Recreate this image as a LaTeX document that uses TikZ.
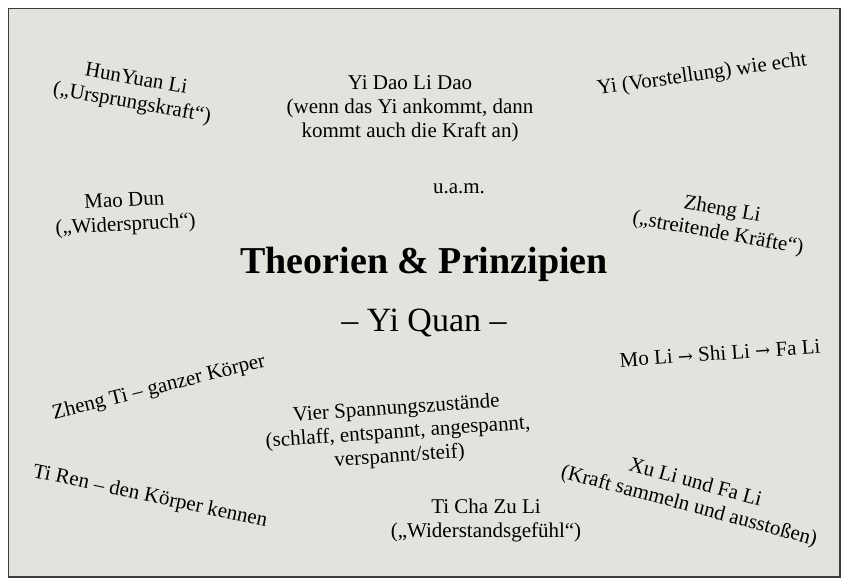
\documentclass[tikz,border=0pt]{standalone}
\usepackage{fontspec}
\setmainfont{Liberation Serif}
\newfontfamily\arrowfont{DejaVu Serif}
\usepackage{xcolor}
\usepackage{tikz}

\definecolor{paper}{RGB}{227,227,221}
\definecolor{rim}{RGB}{60,60,60}
\newcommand{\toarrow}{{\arrowfont\fontsize{18}{18}\selectfont →}}

\begin{document}
\begin{tikzpicture}[x=1pt,y=-1pt,every node/.style={align=center,inner sep=0pt,font=\fontsize{21}{24}\selectfont}]
\useasboundingbox (0,0) rectangle (848,585);
\draw[rim,line width=1.5pt,fill=paper] (8.5,8.5) rectangle (840,577);

\node (title) at (424,264) [font=\fontsize{38}{40}\selectfont\bfseries] {Theorien \& Prinzipien};
\node (yiquan) at (424,323) [font=\fontsize{34}{36}\selectfont] {– Yi Quan –};

\node (hunyuan) at (134,92) [rotate=-10] {HunYuan Li\\(„Ursprungskraft“)};
\node (yidao) at (410,109) {Yi Dao Li Dao\\(wenn das Yi ankommt, dann\\kommt auch die Kraft an)};
\node (vorst) at (702,75) [rotate=8] {Yi (Vorstellung) wie echt};
\node (uam) at (459,189) {u.a.m.};
\node (maodun) at (125,214) [rotate=3] {Mao Dun\\(„Widerspruch“)};
\node (zhengli) at (720,222) [rotate=-10] {Zheng Li\\(„streitende Kräfte“)};
\node (moli) at (720,353) [rotate=4] {Mo Li \toarrow{} Shi Li \toarrow{} Fa Li};
\node (zhengti) at (159,388) [rotate=14] {Zheng Ti – ganzer Körper};
\node (vier) at (398,433) [rotate=4] {Vier Spannungszustände\\(schlaff, entspannt, angespannt,\\verspannt/steif)};
\node (tiren) at (150,497) [rotate=-12] {Ti Ren – den Körper kennen};
\node (ticha) at (486,520) {Ti Cha Zu Li\\(„Widerstandsgefühl“)};
\node (xuli) at (692,495) [rotate=-15] {Xu Li und Fa Li\\(Kraft sammeln und ausstoßen)};
\end{tikzpicture}
\end{document}
